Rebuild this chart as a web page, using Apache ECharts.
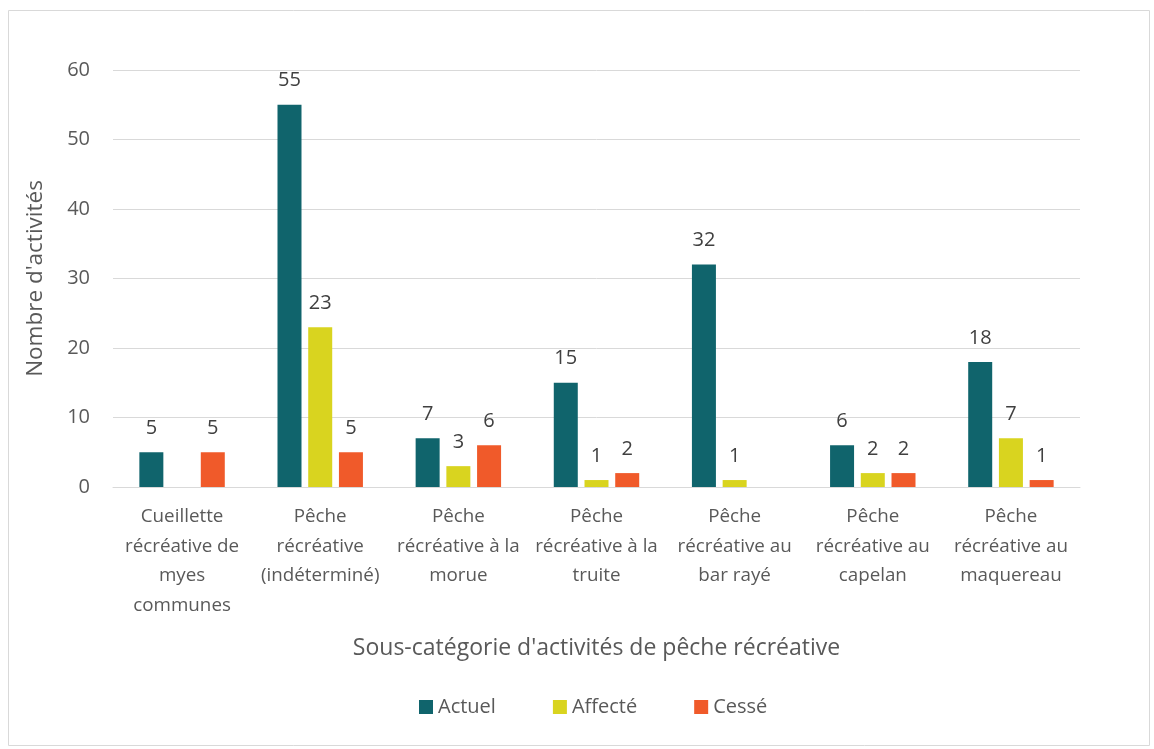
<!DOCTYPE html>
<html><head><meta charset="utf-8">
<script src="https://cdn.jsdelivr.net/npm/echarts@6/dist/echarts.min.js"></script>
<style>html,body{margin:0;padding:0;background:#fff}#c{width:1154px;height:749px}</style>
</head><body><div id="c"></div>
<script>
const categories = [
  "Cueillette\nrécréative de\nmyes\ncommunes",
  "Pêche\nrécréative\n(indéterminé)",
  "Pêche\nrécréative à la\nmorue",
  "Pêche\nrécréative à la\ntruite",
  "Pêche\nrécréative au\nbar rayé",
  "Pêche\nrécréative au\ncapelan",
  "Pêche\nrécréative au\nmaquereau"
];
const actuel = [5, 55, 7, 15, 32, 6, 18];
const affecte = [null, 23, 3, 1, 1, 2, 7];
const cesse = [5, 5, 6, 2, null, 2, 1];
const seriesNames = ["Actuel", "Affecté", "Cessé"];
const colors = ["#10646C", "#D9D41F", "#F05A2A"];
const font = "Open Sans";
const chart = echarts.init(document.getElementById('c'));
const lbl = {show: true, position: 'top', distance: 14, color: '#404040', fontSize: 20, fontFamily: font};
chart.setOption({
  animation: false,
  textStyle: {fontFamily: font},
  graphic: [{type: 'rect', shape: {x: 8.5, y: 10.5, width: 1141, height: 735}, style: {fill: 'none', stroke: '#d9d9d9', lineWidth: 1}}],
  grid: {left: 113, right: 74, top: 70, bottom: 262},
  legend: {
    bottom: 27, left: 414, itemWidth: 14, itemHeight: 14, itemGap: 57,
    icon: 'rect',
    textStyle: {color: '#595959', fontSize: 20, fontFamily: font},
    data: seriesNames
  },
  xAxis: {
    type: 'category', data: categories,
    axisLine: {lineStyle: {color: '#d9d9d9'}},
    axisTick: {show: false},
    axisLabel: {interval: 0, color: '#595959', fontSize: 18.8, lineHeight: 29.5, margin: 15, fontFamily: font},
    name: "Sous-catégorie d'activités de pêche récréative",
    nameLocation: 'middle', nameGap: 150,
    nameTextStyle: {color: '#595959', fontSize: 23, fontFamily: font}
  },
  yAxis: {
    type: 'value', min: 0, max: 60, interval: 10,
    axisLine: {show: false}, axisTick: {show: false},
    splitLine: {lineStyle: {color: '#d9d9d9', width: 1}},
    axisLabel: {color: '#595959', fontSize: 20, margin: 23, fontFamily: font},
    name: "Nombre d'activités", nameLocation: 'middle', nameGap: 66,
    nameTextStyle: {color: '#595959', fontSize: 22.5, fontFamily: font}
  },
  series: [
    {name: seriesNames[0], type: 'bar', data: actuel, itemStyle: {color: colors[0]}, barWidth: 24, barGap: '28%', label: lbl},
    {name: seriesNames[1], type: 'bar', data: affecte, itemStyle: {color: colors[1]}, barWidth: 24, barGap: '28%', label: lbl},
    {name: seriesNames[2], type: 'bar', data: cesse, itemStyle: {color: colors[2]}, barWidth: 24, barGap: '28%', label: lbl}
  ]
});
</script></body></html>
